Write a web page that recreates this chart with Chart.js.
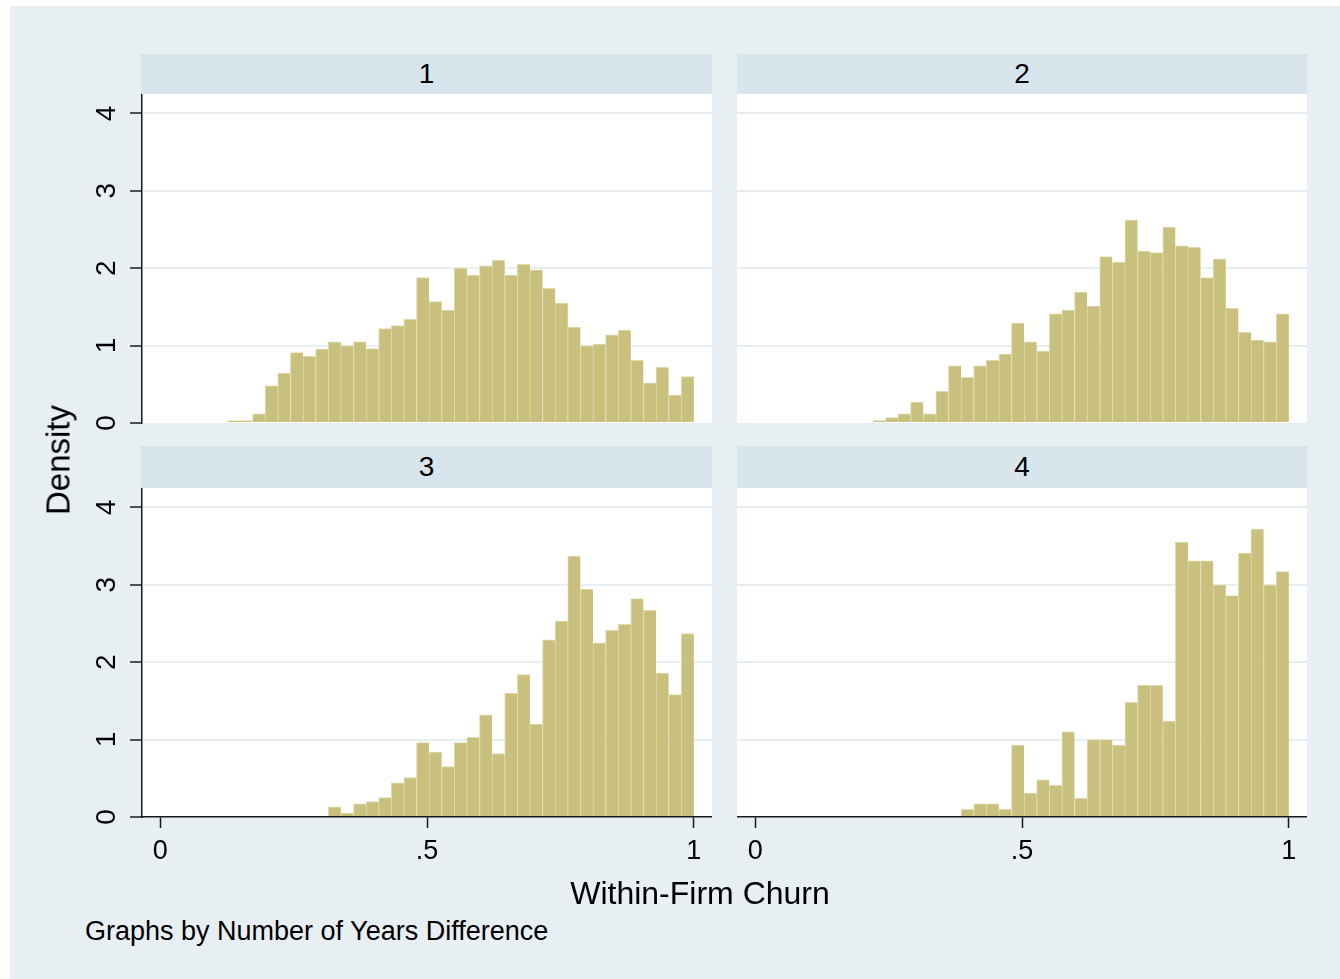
<!DOCTYPE html>
<html><head><meta charset="utf-8">
<script src="https://cdn.jsdelivr.net/npm/chart.js@4/dist/chart.umd.min.js"></script>
<style>
html,body{margin:0;padding:0;background:#fff;width:1340px;height:979px;overflow:hidden;font-family:"Liberation Sans",Arial,sans-serif;}
#bg{position:absolute;left:10px;top:6px;width:1330px;height:973px;background:#e8eff2;}
.strip{position:absolute;background:#d9e5ec;color:#000;font-size:28px;text-align:center;}
canvas{position:absolute;}
.txt{position:absolute;color:#000;white-space:nowrap;line-height:1;}
</style></head><body>
<div id="bg"></div>
<div class="strip" id="s1" style="left:141px;top:54px;width:571px;height:40px;line-height:40px;"></div>
<div class="strip" id="s2" style="left:737px;top:54px;width:570px;height:40px;line-height:40px;"></div>
<div class="strip" id="s3" style="left:141px;top:446px;width:571px;height:42px;line-height:42px;"></div>
<div class="strip" id="s4" style="left:737px;top:446px;width:570px;height:42px;line-height:42px;"></div>
<canvas id="c1" width="642" height="349" style="left:70px;top:94px;width:642px;height:349px;"></canvas>
<canvas id="c2" width="570" height="349" style="left:737px;top:94px;width:570px;height:349px;"></canvas>
<canvas id="c3" width="642" height="389" style="left:70px;top:488px;width:642px;height:389px;"></canvas>
<canvas id="c4" width="570" height="389" style="left:737px;top:488px;width:570px;height:389px;"></canvas>
<div class="txt" id="ytitle" style="left:58px;top:460px;font-size:33px;transform:translate(-50%,-50%) rotate(-90deg);"></div>
<div class="txt" id="xtitle" style="left:700px;top:893px;font-size:32px;transform:translate(-50%,-50%);"></div>
<div class="txt" id="note" style="left:85px;top:931px;font-size:27px;transform:translate(0,-50%);"></div>
<script>
// ---- data ----
const panelLabels = ['1', '2', '3', '4'];
const binStart = 0.126;
const binWidth = 0.02362;
const densityYears1 = [0.03,0.03,0.12,0.48,0.645,0.91,0.86,0.955,1.05,1.0,1.05,0.96,1.22,1.26,1.34,1.88,1.57,1.46,2.0,1.91,2.03,2.10,1.91,2.05,1.98,1.74,1.55,1.24,1.0,1.02,1.14,1.20,0.81,0.52,0.72,0.36,0.60];
const densityYears2 = [null,null,null,null,0.03,0.07,0.12,0.27,0.12,0.41,0.74,0.59,0.74,0.81,0.89,1.29,1.05,0.93,1.41,1.46,1.69,1.51,2.15,2.08,2.62,2.22,2.20,2.53,2.29,2.27,1.88,2.12,1.48,1.17,1.07,1.05,1.41];
const densityYears3 = [null,null,null,null,null,null,null,null,0.13,0.05,0.17,0.20,0.25,0.44,0.51,0.96,0.84,0.65,0.96,1.03,1.32,0.82,1.60,1.84,1.20,2.29,2.53,3.37,2.94,2.25,2.41,2.49,2.82,2.67,1.86,1.58,2.37];
const densityYears4 = [null,null,null,null,null,null,null,null,null,null,null,0.10,0.17,0.17,0.10,0.93,0.31,0.48,0.41,1.10,0.24,1.00,1.00,0.93,1.48,1.70,1.70,1.24,3.55,3.31,3.31,3.00,2.86,3.41,3.72,3.00,3.17];
const yTicks = [0, 1, 2, 3, 4];
const xTicks = [0, 0.5, 1];
const xTickLabels = ['0', '.5', '1'];
const xTitle = 'Within-Firm Churn';
const yTitle = 'Density';
const noteText = 'Graphs by Number of Years Difference';

// ---- text ----
['s1','s2','s3','s4'].forEach((id,i)=>{document.getElementById(id).textContent = panelLabels[i];});
document.getElementById('ytitle').textContent = yTitle;
document.getElementById('xtitle').textContent = xTitle;
document.getElementById('note').textContent = noteText;

const FONT = '"Liberation Sans", Arial, sans-serif';
const AXIS = '#1a1a1a';
const GRID = '#e7eff1';

const plotBg = {
  id: 'plotBg',
  beforeDraw(chart) {
    const a = chart.chartArea, ctx = chart.ctx;
    ctx.save(); ctx.fillStyle = '#ffffff';
    ctx.fillRect(a.left, a.top, a.right - a.left, a.bottom - a.top);
    ctx.restore();
  }
};
const yLabels = {
  id: 'yLabels',
  afterDraw(chart, args, opts) {
    if (!opts.show) return;
    const s = chart.scales.y, ctx = chart.ctx;
    ctx.save();
    ctx.font = '28px ' + FONT; ctx.fillStyle = '#000';
    ctx.textAlign = 'center'; ctx.textBaseline = 'middle';
    yTicks.forEach(v => {
      const y = s.getPixelForValue(v);
      ctx.save(); ctx.translate(opts.x, y); ctx.rotate(-Math.PI / 2);
      ctx.fillText(String(v), 0, 0); ctx.restore();
    });
    ctx.restore();
  }
};

function makePanel(id, values, showY, showX) {
  const data = [];
  values.forEach((v, i) => { if (v !== null) data.push({ x: binStart + (i + 0.5) * binWidth, y: v }); });
  new Chart(document.getElementById(id), {
    type: 'bar',
    data: { datasets: [{
      data,
      backgroundColor: '#c9c07e',
      borderColor: '#e0daad',
      borderWidth: { left: 1, top: 1, right: 0, bottom: 0 },
      barPercentage: 1, categoryPercentage: 1
    }]},
    plugins: [plotBg, yLabels],
    options: {
      responsive: false, animation: false, devicePixelRatio: 1,
      layout: { padding: 0 },
      plugins: { legend: { display: false }, tooltip: { enabled: false }, yLabels: { show: showY, x: 37 } },
      scales: {
        x: {
          type: 'linear', min: -0.034, max: 1.034, display: showX, position: 'bottom', offset: false,
          afterBuildTicks: s => { s.ticks = xTicks.map(v => ({ value: v })); },
          afterFit: s => { s.height = showX ? 60 : 20; },
          grid: { offset: false, drawOnChartArea: false, drawTicks: true, tickLength: 11, tickColor: AXIS, tickWidth: 1.5 },
          border: { display: true, color: AXIS, width: 1.5 },
          ticks: { font: { size: 27, family: FONT }, color: '#000', padding: 7, maxRotation: 0, minRotation: 0,
                   callback: v => xTickLabels[xTicks.indexOf(v)] }
        },
        y: {
          type: 'linear', min: 0, max: 4.25,
          afterBuildTicks: s => { s.ticks = yTicks.map(v => ({ value: v })); },
          afterFit: s => { s.width = showY ? 72 : 0; },
          grid: { color: c => (c.tick && c.tick.value === 0) ? 'rgba(0,0,0,0)' : GRID, lineWidth: 2,
                  drawTicks: showY, tickLength: 12, tickColor: AXIS, tickWidth: 1.5 },
          border: { display: showY, color: AXIS, width: 1.5 },
          ticks: { display: false }
        }
      }
    }
  });
}
makePanel('c1', densityYears1, true, false);
makePanel('c2', densityYears2, false, false);
makePanel('c3', densityYears3, true, true);
makePanel('c4', densityYears4, false, true);
</script>
</body></html>
